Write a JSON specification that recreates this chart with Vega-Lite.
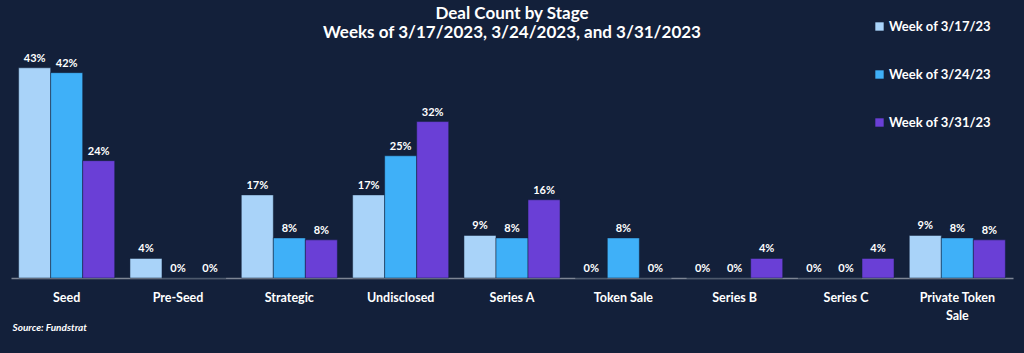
{
  "$schema": "https://vega.github.io/schema/vega-lite/v6.json",
  "width": 1002,
  "height": 220,
  "autosize": "none",
  "padding": {"left": 11, "top": 58, "right": 11, "bottom": 75},
  "background": "#13203a",
  "title": {
    "text": ["Deal Count by Stage", "Weeks of 3/17/2023, 3/24/2023, and 3/31/2023"],
    "font": "Lato",
    "fontSize": 17,
    "fontWeight": "bold",
    "color": "#ffffff",
    "anchor": "middle",
    "offset": -22,
    "lineHeight": 19
  },
  "data": {
    "values": [
      {"stage": "Seed", "week": "Week of 3/17/23", "value": 0.43},
      {"stage": "Seed", "week": "Week of 3/24/23", "value": 0.42},
      {"stage": "Seed", "week": "Week of 3/31/23", "value": 0.24},
      {"stage": "Pre-Seed", "week": "Week of 3/17/23", "value": 0.04},
      {"stage": "Pre-Seed", "week": "Week of 3/24/23", "value": 0},
      {"stage": "Pre-Seed", "week": "Week of 3/31/23", "value": 0},
      {"stage": "Strategic", "week": "Week of 3/17/23", "value": 0.17},
      {"stage": "Strategic", "week": "Week of 3/24/23", "value": 0.082},
      {"stage": "Strategic", "week": "Week of 3/31/23", "value": 0.078},
      {"stage": "Undisclosed", "week": "Week of 3/17/23", "value": 0.17},
      {"stage": "Undisclosed", "week": "Week of 3/24/23", "value": 0.25},
      {"stage": "Undisclosed", "week": "Week of 3/31/23", "value": 0.32},
      {"stage": "Series A", "week": "Week of 3/17/23", "value": 0.087},
      {"stage": "Series A", "week": "Week of 3/24/23", "value": 0.082},
      {"stage": "Series A", "week": "Week of 3/31/23", "value": 0.16},
      {"stage": "Token Sale", "week": "Week of 3/17/23", "value": 0},
      {"stage": "Token Sale", "week": "Week of 3/24/23", "value": 0.082},
      {"stage": "Token Sale", "week": "Week of 3/31/23", "value": 0},
      {"stage": "Series B", "week": "Week of 3/17/23", "value": 0},
      {"stage": "Series B", "week": "Week of 3/24/23", "value": 0},
      {"stage": "Series B", "week": "Week of 3/31/23", "value": 0.04},
      {"stage": "Series C", "week": "Week of 3/17/23", "value": 0},
      {"stage": "Series C", "week": "Week of 3/24/23", "value": 0},
      {"stage": "Series C", "week": "Week of 3/31/23", "value": 0.04},
      {"stage": "Private Token Sale", "week": "Week of 3/17/23", "value": 0.087},
      {"stage": "Private Token Sale", "week": "Week of 3/24/23", "value": 0.082},
      {"stage": "Private Token Sale", "week": "Week of 3/31/23", "value": 0.078}
    ]
  },
  "encoding": {
    "x": {
      "field": "stage",
      "type": "nominal",
      "sort": null,
      "scale": {"paddingInner": 0.137, "paddingOuter": 0.0685},
      "axis": {
        "title": "Source: Fundstrat",
        "titleFont": "Lato",
        "titleFontSize": 10,
        "titleFontWeight": "bold",
        "titleFontStyle": "italic",
        "titleColor": "#ffffff",
        "titleAnchor": "start",
        "titleAlign": "left",
        "titleBaseline": "middle",
        "titleX": 1,
        "titleY": 49,
        "labelAngle": 0,
        "labelFont": "Lato",
        "labelFontSize": 12.5,
        "labelFontWeight": "bold",
        "labelColor": "#ffffff",
        "labelPadding": 13,
        "labelLineHeight": 18,
        "labelExpr": "datum.label == 'Private Token Sale' ? ['Private Token', 'Sale'] : datum.label",
        "ticks": false,
        "domainColor": "#7d8594",
        "domainWidth": 1.5,
        "grid": false
      }
    },
    "xOffset": {"field": "week", "type": "nominal"},
    "y": {
      "field": "value",
      "type": "quantitative",
      "scale": {"domain": [0, 0.45], "nice": false},
      "axis": null
    }
  },
  "layer": [
    {
      "mark": {"type": "bar", "stroke": "#13203a", "strokeWidth": 0.5},
      "encoding": {
        "color": {
          "field": "week",
          "type": "nominal",
          "scale": {"range": ["#a9d3f9", "#3fb0f8", "#6a3fd6"]},
          "legend": {
            "title": null,
            "orient": "none",
            "legendX": 862,
            "legendY": -38,
            "symbolType": "square",
            "symbolSize": 70,
            "symbolStrokeWidth": 0,
            "labelFont": "Lato",
            "labelFontSize": 13,
            "labelFontWeight": "bold",
            "labelColor": "#ffffff",
            "labelOffset": 3,
            "rowPadding": 34
          }
        }
      }
    },
    {
      "mark": {"type": "text", "baseline": "bottom", "dy": -4, "font": "Lato", "fontSize": 11, "fontWeight": "bold", "color": "#ffffff"},
      "encoding": {
        "text": {"field": "value", "type": "quantitative", "format": ".0%"}
      }
    }
  ],
  "config": {"view": {"stroke": null}}
}
